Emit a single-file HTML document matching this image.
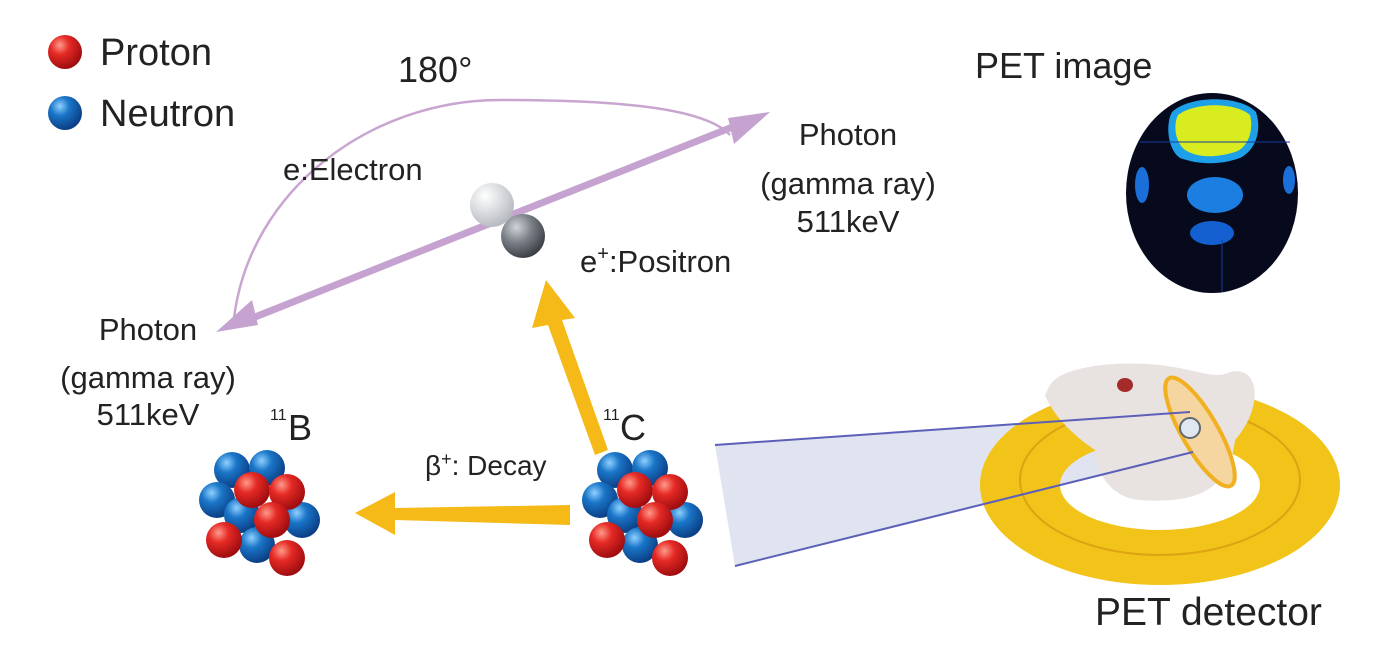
<!DOCTYPE html>
<html><head><meta charset="utf-8"><style>
html,body{margin:0;padding:0;background:#fff;}
svg{display:block;font-family:"Liberation Sans",sans-serif;}
</style></head><body>
<svg width="1381" height="660" viewBox="0 0 1381 660" xmlns="http://www.w3.org/2000/svg">
<defs>
<radialGradient id="rd" cx="0.35" cy="0.3" r="0.7"><stop offset="0" stop-color="#ff9a8a"/><stop offset="0.4" stop-color="#e52a25"/><stop offset="1" stop-color="#a00d10"/></radialGradient>
<radialGradient id="bl" cx="0.35" cy="0.3" r="0.7"><stop offset="0" stop-color="#8fd0ff"/><stop offset="0.4" stop-color="#1a76c8"/><stop offset="1" stop-color="#0b3f86"/></radialGradient>
<radialGradient id="wh" cx="0.35" cy="0.3" r="0.7"><stop offset="0" stop-color="#fff"/><stop offset="1" stop-color="#b8bcc2"/></radialGradient>
<radialGradient id="gr" cx="0.35" cy="0.3" r="0.7"><stop offset="0" stop-color="#d0d4d8"/><stop offset="0.5" stop-color="#7b8088"/><stop offset="1" stop-color="#3e4248"/></radialGradient>
<g id="nuc">
<circle cx="-30" cy="-40" r="18" fill="url(#bl)"/><circle cx="5" cy="-42" r="18" fill="url(#bl)"/>
<circle cx="-45" cy="-10" r="18" fill="url(#bl)"/><circle cx="40" cy="10" r="18" fill="url(#bl)"/>
<circle cx="-20" cy="5" r="18" fill="url(#bl)"/><circle cx="-5" cy="35" r="18" fill="url(#bl)"/>
<circle cx="-10" cy="-20" r="18" fill="url(#rd)"/><circle cx="25" cy="-18" r="18" fill="url(#rd)"/>
<circle cx="10" cy="10" r="18" fill="url(#rd)"/><circle cx="-38" cy="30" r="18" fill="url(#rd)"/>
<circle cx="25" cy="48" r="18" fill="url(#rd)"/>
</g>
</defs>
<circle cx="65" cy="52" r="17" fill="url(#rd)"/>
<circle cx="65" cy="113" r="17" fill="url(#bl)"/>
<text x="100" y="65" font-size="38" fill="#222">Proton</text>
<text x="100" y="126" font-size="38" fill="#222">Neutron</text>
<text x="398" y="82" font-size="36" fill="#222">180°</text>
<path d="M234,318 C250,190 370,100 500,100 C620,100 705,108 730,135" fill="none" stroke="#c9a6d0" stroke-width="2.5"/>
<line x1="240" y1="323" x2="750" y2="120" stroke="#c5a2cf" stroke-width="7"/>
<polygon points="216,332 252,300 258,325" fill="#c5a2cf"/>
<polygon points="770,112 734,144 728,118" fill="#c5a2cf"/>
<text x="283" y="180" font-size="31" fill="#222">e:Electron</text>
<circle cx="492" cy="205" r="22" fill="url(#wh)"/>
<circle cx="523" cy="236" r="22" fill="url(#gr)"/>
<text x="580" y="272" font-size="31" fill="#222">e<tspan dy="-12" font-size="20">+</tspan><tspan dy="12">:Positron</tspan></text>
<g font-size="31" fill="#222" text-anchor="middle">
<text x="848" y="145">Photon</text><text x="848" y="194">(gamma ray)</text><text x="848" y="232">511keV</text>
<text x="148" y="340">Photon</text><text x="148" y="388">(gamma ray)</text><text x="148" y="425">511keV</text>
</g>
<text x="975" y="78" font-size="36" fill="#222">PET image</text>
<ellipse cx="1212" cy="193" rx="86" ry="100" fill="#060a1c"/>
<path d="M1172,112 C1190,95 1240,95 1256,112 C1262,130 1256,150 1240,158 C1220,165 1200,165 1180,158 C1168,150 1165,125 1172,112 Z" fill="#1ea0e8"/>
<path d="M1178,115 C1195,102 1235,102 1250,115 C1254,130 1248,148 1235,152 C1215,158 1198,158 1185,150 C1175,142 1173,125 1178,115 Z" fill="#d8ec20"/>
<ellipse cx="1215" cy="195" rx="28" ry="18" fill="#1b7ee0"/>
<ellipse cx="1212" cy="233" rx="22" ry="12" fill="#1560d0"/>
<ellipse cx="1142" cy="185" rx="7" ry="18" fill="#1a70d8"/>
<ellipse cx="1289" cy="180" rx="6" ry="14" fill="#1a70d8"/>
<line x1="1140" y1="142" x2="1290" y2="142" stroke="#1a3aa0" stroke-width="1"/>
<line x1="1222" y1="240" x2="1222" y2="292" stroke="#1a3aa0" stroke-width="1"/>
<polygon points="595,455 608,450 562,320 575,318 546,280 532,328 548,325" fill="#f5b918"/>
<polygon points="570,505 570,525 395,520 395,535 355,513 395,492 395,508" fill="#f5b918"/>
<text x="425" y="475" font-size="28" fill="#222">β<tspan dy="-10" font-size="18">+</tspan><tspan dy="10">: Decay</tspan></text>
<text x="270" y="420" font-size="16" fill="#222">11</text><text x="288" y="440" font-size="36" fill="#222">B</text>
<text x="603" y="420" font-size="16" fill="#222">11</text><text x="620" y="440" font-size="36" fill="#222">C</text>
<use href="#nuc" x="262" y="510"/>
<use href="#nuc" x="645" y="510"/>
<polygon points="715,445 1190,412 1193,452 735,566" fill="#dfe4f0"/>
<path d="M980,485 A180,100 0 1,0 1340,485 A180,100 0 1,0 980,485 Z M1060,485 A100,45 0 1,1 1260,485 A100,45 0 1,1 1060,485 Z" fill="#f2c318" fill-rule="evenodd"/>
<ellipse cx="1160" cy="480" rx="140" ry="75" fill="none" stroke="#dca414" stroke-width="2"/>
<path d="M1050,385 C1060,368 1110,360 1160,365 C1200,370 1215,380 1230,372 C1262,365 1262,410 1235,440 C1230,480 1210,505 1140,500 C1110,498 1095,470 1095,450 C1080,440 1055,420 1045,395 Z" fill="#e8e2e0"/>
<ellipse cx="1125" cy="385" rx="8" ry="7" fill="#a52a2a"/>
<ellipse cx="1200" cy="432" rx="18" ry="62" transform="rotate(-30 1200 432)" fill="#f6d6a0" stroke="#f0b020" stroke-width="4"/>
<line x1="715" y1="445" x2="1190" y2="412" stroke="#5c60b8" stroke-width="2"/>
<line x1="735" y1="566" x2="1193" y2="452" stroke="#5c60b8" stroke-width="2"/>
<circle cx="1190" cy="428" r="10" fill="#dfe8f0" stroke="#606870" stroke-width="2"/>
<text x="1095" y="625" font-size="39" fill="#222">PET detector</text>
</svg>
</body></html>
